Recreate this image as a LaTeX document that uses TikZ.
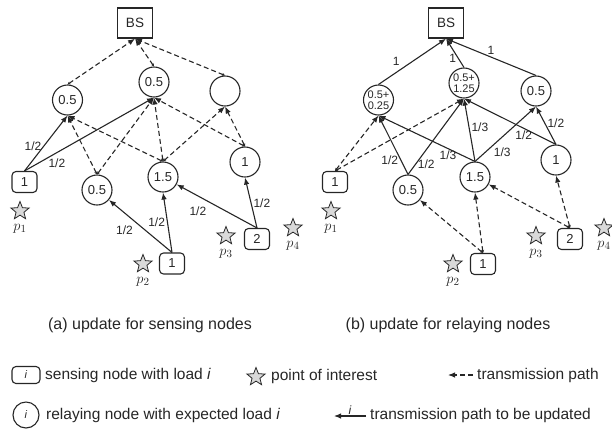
\documentclass[tikz,border=0pt]{standalone}
\usepackage{fontspec}
\setmainfont{Liberation Sans}
\usetikzlibrary{shapes.geometric,arrows.meta}
\definecolor{ink}{HTML}{262626}
\begin{document}
\begin{tikzpicture}[x=1pt,y=-1pt,
  every node/.style={text=ink, inner sep=0pt},
  bsbox/.style={draw=ink, line width=1.4pt, minimum width=35pt, minimum height=30pt, font=\fontsize{13.5}{14}\selectfont},
  sensebox/.style={draw=ink, line width=1.1pt, rounded corners=4pt, minimum width=25pt, minimum height=21pt, font=\fontsize{13}{14}\selectfont},
  relay/.style={draw=ink, circle, line width=1.1pt, minimum size=30pt, font=\fontsize{13}{14}\selectfont},
  relaytwo/.style={relay, font=\fontsize{11}{11.5}\selectfont, align=center},
  poi/.style={draw=ink, star, star points=5, star point ratio=2.3, minimum size=19pt, fill=gray!30, line width=0.8pt},
  plab/.style={font=\fontsize{15}{15}\selectfont},
  tx/.style={draw=ink, line width=1.1pt, dash pattern=on 5pt off 3pt, arrows={Stealth[length=3pt,width=3pt]-Latex[length=7pt,width=5.5pt]}},
  up/.style={draw=ink, line width=1.1pt, -{Latex[length=7pt,width=5.5pt]}},
  lbl/.style={font=\fontsize{12}{12}\selectfont, inner sep=2pt},
  captxt/.style={font=\fontsize{16}{16}\selectfont, anchor=center},
  leg/.style={font=\fontsize{15.5}{16}\selectfont, anchor=west},
]
\useasboundingbox (0,0) rectangle (612,432);

% ---------------- panel (a) ----------------
\node[bsbox] (aBS) at (135,23) {BS};
\node[relay] (aR1) at (67.5,100) {0.5};
\node[relay] (aR2) at (154,82) {0.5};
\node[relay] (aR3) at (225,91) {};
\node[relay] (aR4) at (97,190) {0.5};
\node[relay] (aR5) at (163,177) {1.5};
\node[relay] (aR6) at (245,162) {1};
\node[sensebox] (aS1) at (24.5,182) {1};
\node[sensebox] (aS2) at (172,263.5) {1};
\node[sensebox] (aS3) at (257,239) {2};
\node[poi] (aP1) at (20,211) {};
\node[poi] (aP2) at (143,264) {};
\node[poi] (aP3) at (226,236) {};
\node[poi] (aP4) at (293,228) {};
\node[plab] (aL1) at (20,229) {$p_1$};
\node[plab] (aL2) at (143,282) {$p_2$};
\node[plab] (aL3) at (226,254) {$p_3$};
\node[plab] (aL4) at (293,246) {$p_4$};

\draw[tx] (aR1.north) -- (aBS.south);
\draw[tx] (aR2.north) -- (aBS.south);
\draw[tx] (aR3.north) -- (aBS.south);
\draw[tx] (aR4.north) -- (aR1.south);
\draw[tx] (aR4.north) -- (aR2.south);
\draw[tx] (aR5.north) -- (aR1.south);
\draw[tx] (aR5.north) -- (aR2.south);
\draw[tx] (aR5.north) -- (aR3.south);
\draw[tx] (aR6.north) -- (aR2.south);
\draw[tx] (aR6.north) -- (aR3.south);

\draw[up] (aS1.north) -- node[lbl, pos=0.45, left] {1/2} (aR1.south);
\draw[up] (aS1.north) -- node[lbl, pos=0.25, below, yshift=-4pt] {1/2} (aR2.south);
\draw[up] (aS2.north) -- node[lbl, pos=0.55, below left, xshift=-2pt] {1/2} (aR4);
\draw[up] (aS2.north) -- node[lbl, pos=0.5, left] {1/2} (aR5.south);
\draw[up] (aS3.north) -- node[lbl, pos=0.6, below left, yshift=-2pt] {1/2} (aR5);
\draw[up] (aS3.north) -- node[lbl, pos=0.5, right] {1/2} (aR6.south);

\node[captxt] (capA) at (150,325) {(a) update for sensing nodes};

% ---------------- panel (b) ----------------
\node[bsbox] (bBS) at (446,23) {BS};
\node[relaytwo] (bR1) at (378.5,100) {0.5+\\0.25};
\node[relaytwo] (bR2) at (464,83) {0.5+\\1.25};
\node[relay] (bR3) at (536,91) {0.5};
\node[relay] (bR4) at (408,190) {0.5};
\node[relay] (bR5) at (475,177) {1.5};
\node[relay] (bR6) at (556,160) {1};
\node[sensebox] (bS1) at (335,182) {1};
\node[sensebox] (bS2) at (483,264) {1};
\node[sensebox] (bS3) at (570,239) {2};
\node[poi] (bP1) at (331,211) {};
\node[poi] (bP2) at (453,264) {};
\node[poi] (bP3) at (536,236) {};
\node[poi] (bP4) at (604,228) {};
\node[plab] (bL1) at (331,229) {$p_1$};
\node[plab] (bL2) at (453,282) {$p_2$};
\node[plab] (bL3) at (536,254) {$p_3$};
\node[plab] (bL4) at (604,246) {$p_4$};

\draw[up] (bR1.north) -- node[lbl, pos=0.35, above left] {1} (bBS.south);
\draw[up] (bR2.north) -- node[lbl, pos=0.3, left] {1} (bBS.south);
\draw[up] (bR3.north) -- node[lbl, pos=0.5, above] {1} (bBS.south);
\draw[up] (bR4.north) -- node[lbl, pos=0.25, left] {1/2} (bR1.south);
\draw[up] (bR4.north) -- node[lbl, pos=0.13, right] {1/2} (bR2.south);
\draw[up] (bR5.north) -- node[lbl, pos=0.28, below] {1/3} (bR1.south);
\draw[up] (bR5.north) -- node[lbl, pos=0.55, right] {1/3} (bR2.south);
\draw[up] (bR5.north) -- node[lbl, pos=0.3, below right, xshift=-2pt] {1/3} (bR3.south);
\draw[up] (bR6.north) -- node[lbl, pos=0.35, below] {1/2} (bR2.south);
\draw[up] (bR6.north) -- node[lbl, pos=0.55, right] {1/2} (bR3.south);

\draw[tx] (bS1.north) -- (bR1.south);
\draw[tx] (bS1.north) -- (bR2.south);
\draw[tx] (bS2.north) -- (bR4);
\draw[tx] (bS2.north) -- (bR5.south);
\draw[tx] (bS3.north) -- (bR5);
\draw[tx] (bS3.north) -- (bR6.south);

\node[captxt] (capB) at (448,325) {(b) update for relaying nodes};

% ---------------- legend ----------------
\node[sensebox, minimum width=28pt, minimum height=17pt, font=\fontsize{11}{11}\selectfont] (gS) at (26,375) {\textit{i}};
\node[leg] (gSt) at (45,375) {sensing node with load \textit{i}};
\node[poi] (gP) at (256,377) {};
\node[leg] (gPt) at (271,376) {point of interest};
\coordinate (gTa) at (473,375);
\coordinate (gTb) at (448,375);
\draw[draw=ink, line width=1.1pt, dash pattern=on 5pt off 3pt, -{Latex[length=7pt,width=5.5pt]}] (gTa) -- (gTb);
\node[leg] (gTt) at (477,375) {transmission path};

\node[relay, minimum size=26pt, font=\fontsize{11}{11}\selectfont] (gR) at (26,415) {\textit{i}};
\node[leg] (gRt) at (46,415) {relaying node with expected load \textit{i}};
\coordinate (gUa) at (366,416);
\coordinate (gUb) at (334,416);
\draw[up] (gUa) -- node[lbl, above, inner sep=1pt] {\textit{i}} (gUb);
\node[leg] (gUt) at (370,415) {transmission path to be updated};
\end{tikzpicture}
\end{document}
